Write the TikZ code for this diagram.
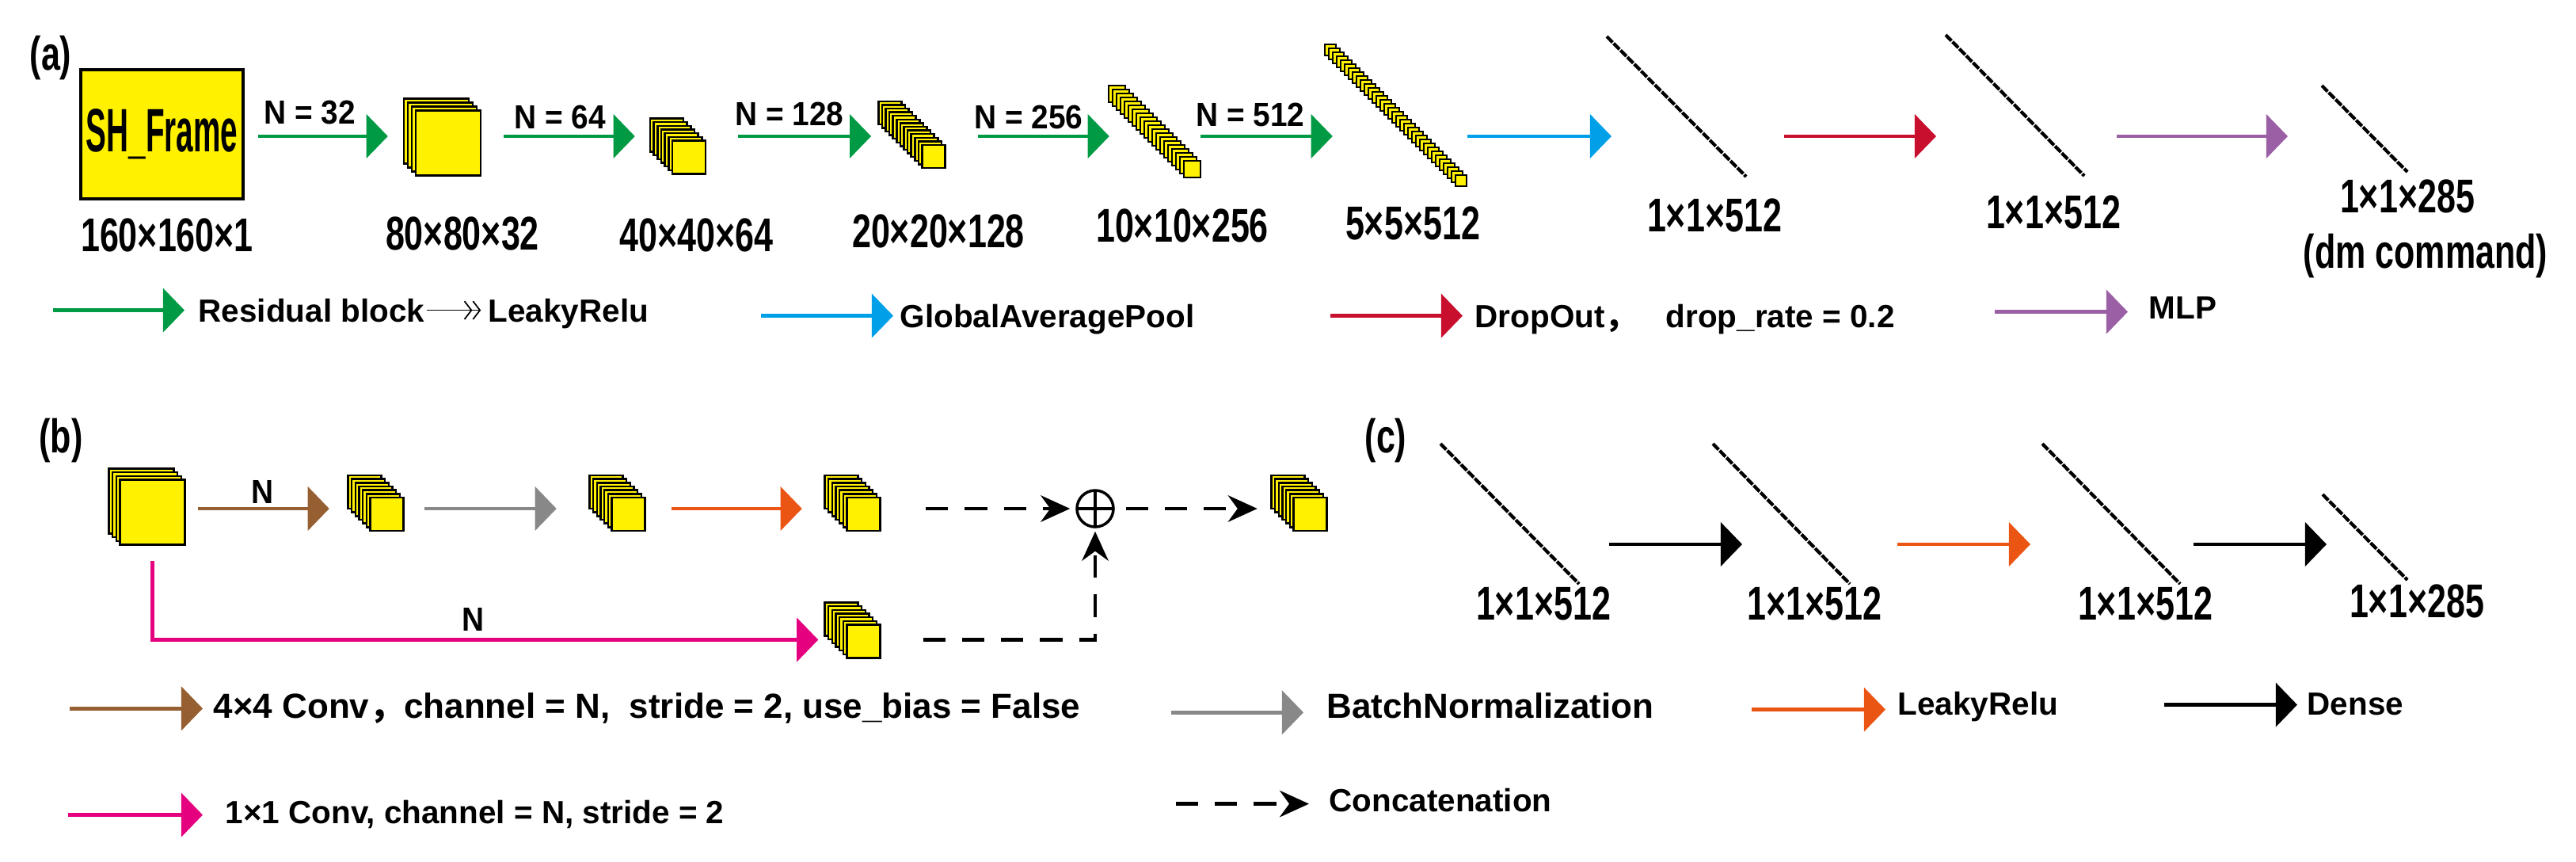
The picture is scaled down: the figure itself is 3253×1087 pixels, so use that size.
\documentclass[tikz,border=0pt]{standalone}
\usepackage{fontspec}
\setmainfont{Liberation Sans}
\newfontfamily\dimfont{Liberation Sans}[FakeStretch=0.72]
\newfontfamily\nfont{Liberation Sans}[FakeStretch=0.92]
\newfontfamily\framefont{Liberation Sans}[FakeStretch=0.5]
\newfontfamily\cjkfont{Noto Sans CJK SC}
\usepackage{tikz}
\usetikzlibrary{arrows.meta,calc,positioning}
\definecolor{ogreen}{RGB}{0,153,68}
\definecolor{oblue}{RGB}{0,160,233}
\definecolor{ored}{RGB}{200,16,46}
\definecolor{opurple}{RGB}{155,95,165}
\definecolor{obrown}{RGB}{150,95,50}
\definecolor{ogray}{RGB}{136,136,136}
\definecolor{oorange}{RGB}{234,85,20}
\definecolor{opink}{RGB}{228,0,127}
\definecolor{oyellow}{RGB}{255,241,0}

\begin{document}
\begin{tikzpicture}[x=0.01cm, y=-0.01cm,
		layer/.style={draw, fill=oyellow, line width=0.7pt, inner sep=0pt},
		arr/.style={line width=1.4pt, draw=#1, -{Triangle[length=7.7pt,width=15.6pt]}},
		dasharr/.style={line width=1.4pt, dash pattern=on 8pt off 6pt, -{Stealth[length=10.5pt,width=9.5pt]}},
		vec/.style={line width=1.2pt, dash pattern=on 3pt off 0.5pt},
		dim/.style={inner sep=0pt, anchor=base, font=\dimfont\bfseries\fontsize{17}{20}\selectfont},
		nlab/.style={inner sep=0pt, anchor=base, font=\nfont\bfseries\fontsize{12}{14}\selectfont},
		legend/.style={inner sep=0pt, anchor=base west, text height=8.2pt, text depth=0pt, font=\bfseries\fontsize{11.5}{13}\selectfont},
		biglegend/.style={legend, text height=8.95pt, font=\bfseries\fontsize{12.5}{14}\selectfont}]
		
		\useasboundingbox (0,0) rectangle (3253,1087);
		
		% feature map stacks, back layer first
		\foreach \nm/\cx/\cy/\sz/\nl/\st in {s80/566/180.5/82/4/5, s40/870/198.5/42/7/4.67, s20/1179/197.5/29/13/4.6, s10/1505.5/213.5/21/20/5, s5/1845/228/14/34/5, bin/192.5/646.5/82/4/4.7, b2/488.5/649/42/7/4.67, b3/793.5/649/42/7/4.67, b4/1090.5/649/42/7/4.67, b5/1654.5/649/42/7/4.67, b6/1090.5/809.5/42/7/4.67}
		\foreach \i in {1,...,\nl}
		\node [layer, minimum size=\sz*0.01cm] (\nm-\i) at (\cx-\nl*\st+\i*\st, \cy-\nl*\st+\i*\st) {};
		
		% (a)
		\node [dim, anchor=center] (tag-a) at (64,73) {(a)};
		\node [draw, fill=oyellow, line width=0.9pt, minimum width=2.05cm, minimum height=1.63cm, inner sep=0pt,
		font=\framefont\bfseries\fontsize{22}{24}\selectfont] (frame) at (204.5,169.5) {SH\_Frame};
		
		\coordinate (rowa) at (0,172);
		\coordinate (v1-a) at (2029,46); \coordinate (v1-b) at (2205,223);
		\coordinate (v2-a) at (2457,44); \coordinate (v2-b) at (2632,222);
		\coordinate (v3-a) at (2932,108); \coordinate (v3-b) at (3040,217);
		\foreach \vn in {v1,v2,v3}
		\draw [vec] (\vn-a) -- (\vn-b);
		
		\foreach \src/\dst/\sa/\sb/\col in {frame.east/s80-1.west/17/-19/ogreen, s80-4.east/s40-1.west/28/-18/ogreen, s40-7.east/s20-1.west/40/-8/ogreen, s20-13.east/s10-1.west/40/2/ogreen, s10-20.east/s5-1.west/-1/11/ogreen, s5-34.east/v1-a/0/6/oblue, v1-b/v2-a/48/-12/ored, v2-b/v3-a/41/-43/opurple}
		\draw [arr=\col] ($(\src |- rowa)+(\sa,0)$) -- ($(\dst |- rowa)+(\sb,0)$);
		
		\node [nlab] (n32) at (391,156) {N = 32};
		\node [nlab] (n64) at (707,162) {N = 64};
		\node [nlab] (n128) at (997,158) {N = 128};
		\node [nlab] (n256) at (1299,162) {N = 256};
		\node [nlab] (n512) at (1579,159) {N = 512};
		
		\node [dim] (d160) at (211,317) {160×160×1};
		\node [dim] (d80) at (584,315) {80×80×32};
		\node [dim] (d40) at (879.5,317) {40×40×64};
		\node [dim] (d20) at (1185,312) {20×20×128};
		\node [dim] (d10) at (1493,305) {10×10×256};
		\node [dim] (d5) at (1784,302) {5×5×512};
		\node [dim] (d1a) at (2165,292) {1×1×512};
		\node [dim] (d1b) at (2593,288) {1×1×512};
		\node [dim] (d285) at (3040,268) {1×1×285};
		\node [dim] (dm) at (3063,338) {(dm command)};
		
		\node [legend] (lres) at (250,406) {Residual block};
		\node [legend] (lrelu) at (616,406) {LeakyRelu};
		\node [legend] (lgap) at (1136,413) {GlobalAveragePool};
		\node [legend] (ldrop) at (1862,413) {DropOut{\cjkfont ，}};
		\node [legend] (lrate) at (2103,413) {drop\_rate = 0.2};
		\node [legend] (lmlp) at (2713,402) {MLP};
		\draw [line width=0.5pt, -{Straight Barb[length=2.5pt,width=6.5pt] Straight Barb[length=2.5pt,width=6.5pt]},
		shorten <=0.5pt, shorten >=2.5pt] (lres.east) -- (lrelu.west);
		
		% (b)
		\node [dim, anchor=center] (tag-b) at (77,556) {(b)};
		\coordinate (rowb) at (0,642);
		\foreach \src/\dst/\sa/\sb/\col in {bin-4.east/b2-1.west/15.5/-22.5/obrown, b2-7.east/b3-1.west/25.5/-40.5/ogray, b3-7.east/b4-1.west/32.5/-27.5/oorange}
		\draw [arr=\col] ($(\src |- rowb)+(\sa,0)$) -- ($(\dst |- rowb)+(\sb,0)$);
		\node [nlab] (nb1) at (332,635) {N};
		
		\node [draw, circle, line width=1pt, minimum size=0.46cm, inner sep=0pt,
		path picture={\draw [line width=1pt] (path picture bounding box.north) -- (path picture bounding box.south)
			(path picture bounding box.west) -- (path picture bounding box.east);}] (plus) at (1383,642) {};
		\draw [dasharr] ($(b4-7.east |- plus)+(56.5,0)$) -- ($(plus.west)+(-7,0)$);
		\draw [dasharr] ($(plus.east)+(14,0)$) -- ($(b5-1.west |- plus)+(-16.5,0)$);
		
		\draw [arr=opink] ($(bin-4.south)+(0,19)$) |- ($(b6-7.west)+(-35,-2)$);
		\node [nlab] (nb2) at (598,796) {N};
		\draw [dasharr] ($(b6-7.east)+(53,-2)$) -| ($(plus.south)+(0,4)$);
		
		\node [biglegend] (lconv) at (269,906) {4×4 Conv{\cjkfont ，}channel = N,\ \ stride = 2, use\_bias = False};
		\node [biglegend] (lbn) at (1675,906) {BatchNormalization};
		\node [legend] (lrelub) at (2396,902) {LeakyRelu};
		\node [legend] (ldense) at (2913,902) {Dense};
		\node [legend] (lskip) at (284,1039) {1×1 Conv, channel = N, stride = 2};
		\node [legend] (lcat) at (1678,1024) {Concatenation};
		
		\foreach \t/\sa/\sb/\dy/\col in {lres/-183/-17/0/ogreen, lgap/-175/-8/0/oblue, ldrop/-182/-15/0/ored, lmlp/-194/-26/6/opurple, lconv/-181/-13/4/obrown, lbn/-196/-29/9/ogray, lrelub/-184/-15/8/oorange, ldense/-180/-12/2/black, lskip/-198/-28/4/opink}
		\draw [arr=\col] ($(\t.west)+(\sa,\dy)$) -- ($(\t.west)+(\sb,\dy)$);
		\draw [dasharr] ($(lcat.west)+(-193,5)$) -- ($(lcat.west)+(-25,5)$);
		
		% (c)
		\node [dim, anchor=center] (tag-c) at (1750,556) {(c)};
		\coordinate (c1-a) at (1819,560); \coordinate (c1-b) at (1994,737);
		\coordinate (c2-a) at (2163,560); \coordinate (c2-b) at (2336,737);
		\coordinate (c3-a) at (2579,560); \coordinate (c3-b) at (2753,737);
		\coordinate (c4-a) at (2933,624); \coordinate (c4-b) at (3040,732);
		\foreach \vn in {c1,c2,c3,c4}
		\draw [vec] (\vn-a) -- (\vn-b);
		
		\coordinate (rowc) at (0,687);
		\foreach \src/\dst/\sa/\sb/\col in {c1-b/c2-a/38/37/black, c2-b/c3-a/60/-15/oorange, c3-b/c4-a/17/5/black}
		\draw [arr=\col] ($(\src |- rowc)+(\sa,0)$) -- ($(\dst |- rowc)+(\sb,0)$);
		
		\node [dim] (dc1) at (1949,782) {1×1×512};
		\node [dim] (dc2) at (2291.5,782) {1×1×512};
		\node [dim] (dc3) at (2709,782) {1×1×512};
		\node [dim] (dc4) at (3052,779) {1×1×285};
		
\end{tikzpicture}
\end{document}
